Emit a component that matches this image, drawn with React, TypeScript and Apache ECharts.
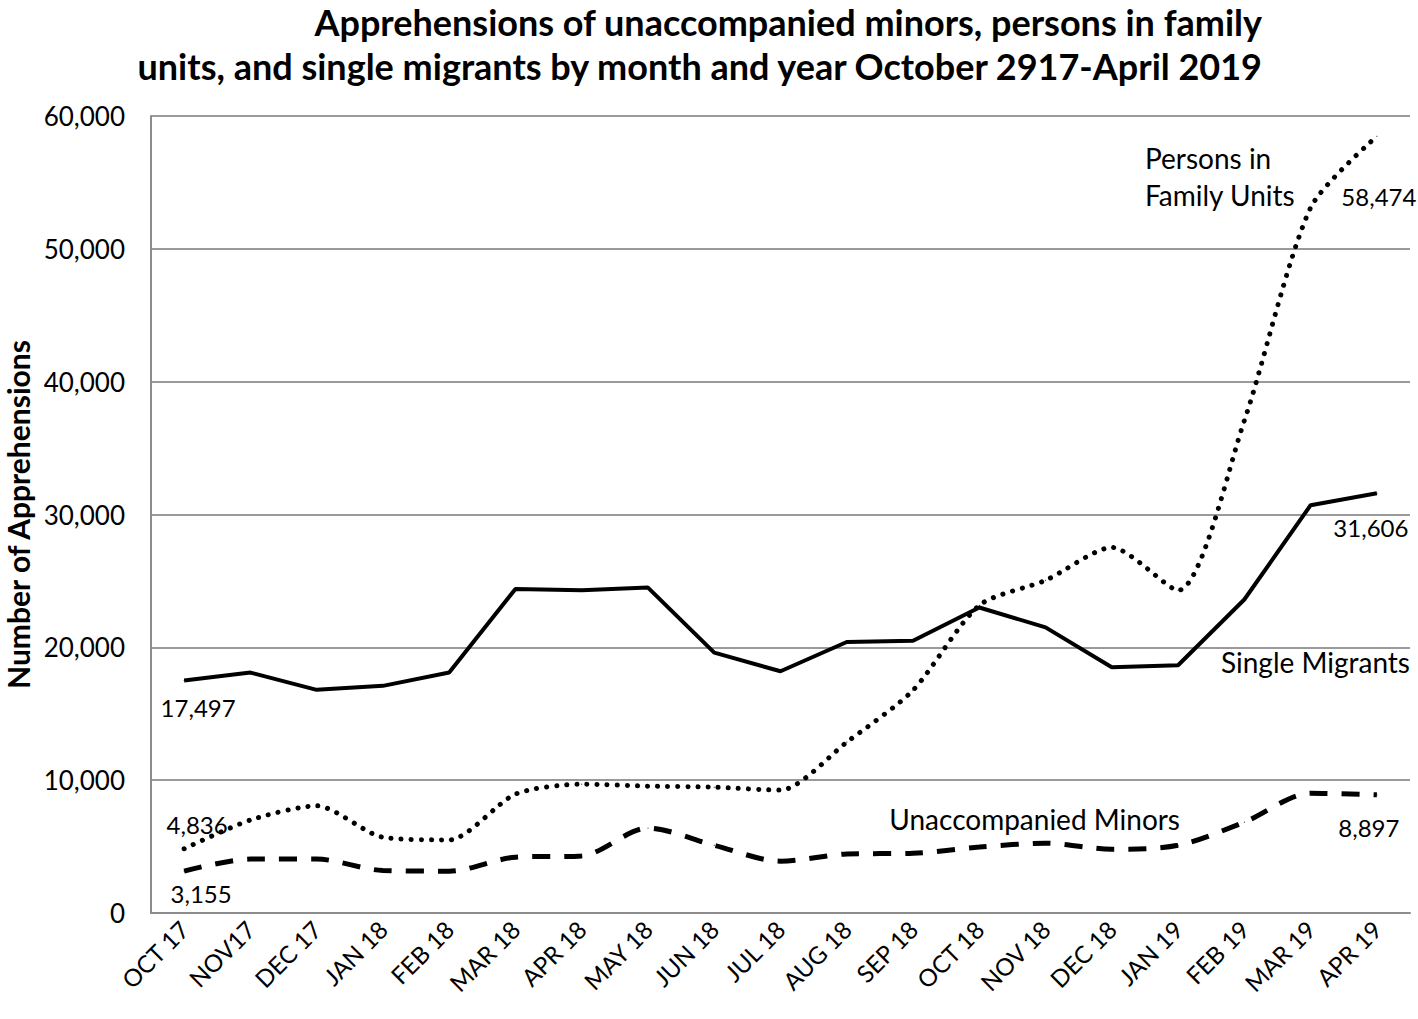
import React, { useEffect, useRef } from "react";
import * as echarts from "echarts";

const categories = ["OCT 17", "NOV17", "DEC 17", "JAN 18", "FEB 18", "MAR 18", "APR 18", "MAY 18", "JUN 18", "JUL 18", "AUG 18", "SEP 18", "OCT 18", "NOV 18", "DEC 18", "JAN 19", "FEB 19", "MAR 19", "APR 19"];
const singleMigrants = [17497, 18100, 16800, 17100, 18100, 24400, 24300, 24500, 19600, 18200, 20400, 20500, 23000, 21500, 18500, 18650, 23600, 30700, 31606];
const familyUnits = [4836, 7000, 8070, 5700, 5500, 8950, 9700, 9550, 9470, 9250, 12860, 16770, 23160, 25040, 27520, 24290, 37070, 53100, 58474];
const unaccompanied = [3155, 4060, 4060, 3200, 3150, 4200, 4300, 6390, 5100, 3900, 4440, 4500, 4960, 5260, 4800, 5100, 6840, 9020, 8897];
const yTicks = [0, 10000, 20000, 30000, 40000, 50000, 60000];

const FONT = "Lato, 'Open Sans', sans-serif";

function withEndLabels(values: number[], first: any, last: any) {
  return values.map((v, i) => {
    if (i === 0) return { value: v, label: { show: true, ...first } };
    if (i === values.length - 1) return { value: v, label: { show: true, ...last } };
    return { value: v, label: { show: false } };
  });
}

const fmt = (p: any) => Number(p.value).toLocaleString("en-US");

export default function App() {
  const ref = useRef<HTMLDivElement>(null);
  useEffect(() => {
    const chart = echarts.init(ref.current!, null, { renderer: "svg" });
    const labelBase = { color: "#000", fontSize: 24, fontFamily: FONT, formatter: fmt };
    const common = {
      type: "line",
      symbol: "circle",
      symbolSize: 1,
      showSymbol: true,
      itemStyle: { color: "#000" },
    };
    chart.setOption({
      animation: false,
      backgroundColor: "#fff",
      grid: { left: 151, right: 8, top: 116, bottom: 106, containLabel: false, outerBoundsMode: "none" },
      xAxis: {
        type: "category",
        data: categories,
        boundaryGap: true,
        axisLine: { show: true, lineStyle: { color: "#8c8c8c", width: 2 } },
        axisTick: { show: false },
        axisLabel: { rotate: 45, color: "#000", fontSize: 24, fontFamily: FONT, margin: 12, interval: 0 },
      },
      yAxis: {
        type: "value",
        min: yTicks[0],
        max: yTicks[yTicks.length - 1],
        interval: 10000,
        name: "Number of Apprehensions",
        nameLocation: "middle",
        nameGap: 117,
        nameTextStyle: { color: "#000", fontSize: 30, fontWeight: "bold", fontFamily: FONT },
        axisLine: { show: true, lineStyle: { color: "#8c8c8c", width: 2 } },
        axisTick: { show: false },
        axisLabel: {
          color: "#000",
          fontSize: 26,
          fontFamily: FONT,
          margin: 26,
          formatter: (v: number) => v.toLocaleString("en-US"),
        },
        splitLine: { show: true, lineStyle: { color: "#9a9a9a", width: 2 } },
      },
      series: [
        {
          ...common,
          name: "Single Migrants",
          data: withEndLabels(
            singleMigrants,
            { ...labelBase, position: "bottom", distance: 14, offset: [14, 0] },
            { ...labelBase, position: "bottom", distance: 22, offset: [-6, 0] }
          ),
          lineStyle: { color: "#000", width: 4, type: "solid" },
          z: 3,
        },
        {
          ...common,
          name: "Persons in Family Units",
          smooth: 0.25,
          data: withEndLabels(
            familyUnits,
            { ...labelBase, position: "top", distance: 12, offset: [13, 0] },
            { ...labelBase, position: "bottom", distance: 48, offset: [2, 0] }
          ),
          lineStyle: { color: "#000", width: 5, type: [0.1, 10], cap: "round" },
          z: 2,
        },
        {
          ...common,
          name: "Unaccompanied Minors",
          smooth: 0.3,
          data: withEndLabels(
            unaccompanied,
            { ...labelBase, position: "bottom", distance: 10, offset: [17, 0] },
            { ...labelBase, position: "bottom", distance: 20, offset: [-8, 0] }
          ),
          lineStyle: { color: "#000", width: 5, type: [18, 14], cap: "butt" },
          z: 2,
        },
      ],
      graphic: [
        {
          type: "text",
          x: 1262,
          y: 0,
          style: {
            text: "Apprehensions of unaccompanied minors, persons in family\nunits, and single migrants by month and year October 2917-April 2019",
            textAlign: "right",
            fontSize: 36,
            fontWeight: "bold",
            fontFamily: FONT,
            lineHeight: 44,
            fill: "#000",
          },
        },
        {
          type: "text",
          x: 1145,
          y: 139,
          style: { text: "Persons in\nFamily Units", fontSize: 28, fontFamily: FONT, lineHeight: 37, fill: "#000" },
        },
        {
          type: "text",
          x: 1410,
          y: 648,
          style: { text: "Single Migrants", textAlign: "right", fontSize: 28, fontFamily: FONT, fill: "#000" },
        },
        {
          type: "text",
          x: 1180,
          y: 805,
          style: { text: "Unaccompanied Minors", textAlign: "right", fontSize: 28, fontFamily: FONT, fill: "#000" },
        },
      ],
    });
    return () => chart.dispose();
  }, []);
  return <div ref={ref} style={{ width: 1418, height: 1019, position: "absolute", left: 0, top: 0 }} />;
}
